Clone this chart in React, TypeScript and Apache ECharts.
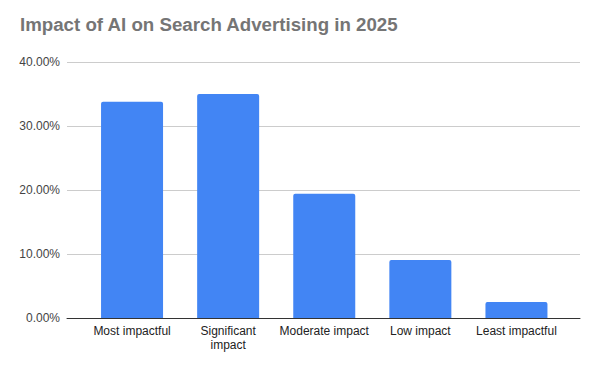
import React, { useEffect, useRef } from "react";
import * as echarts from "echarts";

const categories = ["Most impactful", "Significant\nimpact", "Moderate impact", "Low impact", "Least impactful"];
const values = [0.338, 0.35, 0.194, 0.0906, 0.025];
const yMax = 0.4;
const yInterval = 0.1;

export default function App() {
  const ref = useRef<HTMLDivElement>(null);
  useEffect(() => {
    if (!ref.current) return;
    const chart = echarts.init(ref.current, null, { renderer: "svg" });
    const font = "Liberation Sans, Arial, sans-serif";
    chart.setOption({
      animation: false,
      backgroundColor: "#ffffff",
      title: {
        text: "Impact of AI on Search Advertising in 2025",
        left: 15,
        top: 10,
        textStyle: { fontFamily: font, fontSize: 18.7, fontWeight: "bold", color: "#757575" },
      },
      grid: [
        { left: 67, right: 20, top: 62, bottom: 53 },
        { left: 84, right: 35.5, top: 62, bottom: 53 },
      ],
      xAxis: [
        {
          type: "value",
          gridIndex: 0,
          min: 0,
          max: 1,
          axisLine: { show: true, onZero: false, lineStyle: { color: "#333333", width: 1 } },
          axisTick: { show: false },
          axisLabel: { show: false },
          splitLine: { show: false },
          z: 5,
        },
        {
          type: "category",
          gridIndex: 1,
          data: categories,
          axisLine: { show: false },
          axisTick: { show: false },
          axisLabel: {
            interval: 0,
            margin: 6,
            fontFamily: font,
            fontSize: 12,
            color: "#222222",
            lineHeight: 14,
          },
        },
      ],
      yAxis: [
        {
          type: "value",
          gridIndex: 0,
          min: 0,
          max: yMax,
          interval: yInterval,
          axisLine: { show: false },
          axisTick: { show: false },
          axisLabel: {
            margin: 7,
            fontFamily: font,
            fontSize: 12,
            color: "#444444",
            formatter: (v: number) => (v * 100).toFixed(2) + "%",
          },
          splitLine: { lineStyle: { color: "#cccccc", width: 1 } },
        },
        {
          type: "value",
          gridIndex: 1,
          min: 0,
          max: yMax,
          interval: yInterval,
          show: false,
          splitLine: { show: false },
        },
      ],
      series: [
        {
          type: "bar",
          xAxisIndex: 1,
          yAxisIndex: 1,
          data: values,
          barWidth: 62,
          itemStyle: { color: "#4285F4", borderRadius: [2, 2, 0, 0] },
          z: 3,
        },
      ],
    });
    return () => chart.dispose();
  }, []);
  return <div ref={ref} style={{ width: 600, height: 371, position: "absolute", left: 0, top: 0 }} />;
}
